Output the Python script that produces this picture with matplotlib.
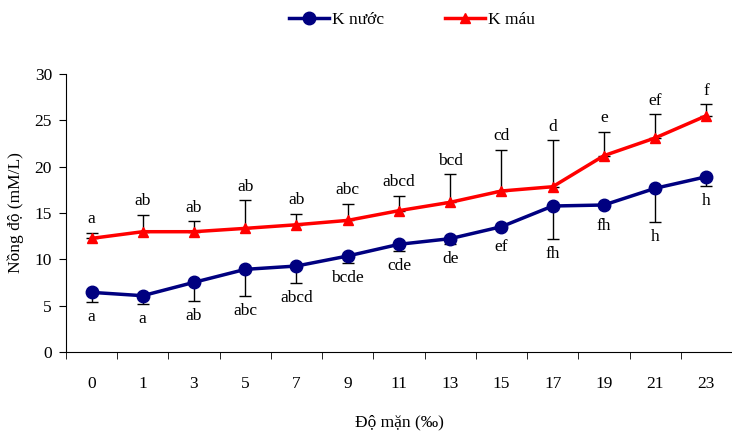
import numpy as np
import matplotlib.pyplot as plt

salinity = ["0", "1", "3", "5", "7", "9", "11", "13", "15", "17", "19", "21", "23"]

k_nuoc = [6.44, 6.08, 7.52, 8.92, 9.28, 10.36, 11.62, 12.23, 13.52, 15.75, 15.86, 17.66, 18.91]
k_nuoc_err = [1.08, 0.9, 1.98, 2.84, 1.8, 0.72, 0.69, 0.58, 0.2, 3.59, 0.1, 3.6, 0.97]
k_nuoc_lab = ["a", "a", "ab", "abc", "abcd", "bcde", "cde", "de", "ef", "fh", "fh", "h", "h"]

k_mau = [12.26, 12.98, 12.98, 13.34, 13.73, 14.2, 15.25, 16.15, 17.37, 17.83, 21.18, 23.09, 25.49]
k_mau_err = [0.58, 1.8, 1.12, 3.02, 1.19, 1.8, 1.62, 3.02, 4.42, 5.0, 2.55, 2.55, 1.23]
k_mau_lab = ["a", "ab", "ab", "ab", "ab", "abc", "abcd", "bcd", "cd", "d", "e", "ef", "f"]

plt.rcParams["font.family"] = ["Liberation Serif", "DejaVu Serif"]
plt.rcParams["font.size"] = 12

fig = plt.figure(figsize=(7.32, 4.32), dpi=100)
ax = fig.add_axes([0.090, 0.185, 0.91, 0.644])

x = np.arange(len(salinity))
zeros = np.zeros(len(x))

ax.errorbar(x, k_nuoc, yerr=[k_nuoc_err, zeros], fmt="none", ecolor="black",
            elinewidth=1, capsize=4, capthick=1, zorder=2)
ax.errorbar(x, k_mau, yerr=[zeros, k_mau_err], fmt="none", ecolor="black",
            elinewidth=1, capsize=4, capthick=1, zorder=2)
ax.plot(x, k_nuoc, color="#000080", marker="o", markersize=9, linewidth=2.5,
        label="K nước", zorder=3)
ax.plot(x, k_mau, color="#FF0000", marker="^", markersize=7, linewidth=2.5,
        label="K máu", zorder=3)

for i in range(len(x)):
    ax.annotate(k_mau_lab[i], (x[i], k_mau[i] + k_mau_err[i]), xytext=(0, 4),
                textcoords="offset points", ha="center", va="bottom", fontsize=12.5)
    low = min(k_nuoc[i] - k_nuoc_err[i], k_nuoc[i] - 0.6)
    ax.annotate(k_nuoc_lab[i], (x[i], low), xytext=(0, -5),
                textcoords="offset points", ha="center", va="top", fontsize=12.5)

ax.set_xlim(-0.5, len(x) - 0.5)
ax.set_ylim(0, 30)
ax.set_yticks(range(0, 31, 5))
ax.set_xticks(x)
ax.set_xticklabels(salinity)
ax.set_xticks(np.arange(-0.5, len(x), 1), minor=True)
ax.tick_params(axis="x", which="major", length=0, pad=17, labelsize=12.5)
ax.tick_params(axis="x", which="minor", length=5, direction="out")
ax.tick_params(axis="y", length=5, direction="out", labelsize=12.5, pad=5)
ax.spines["top"].set_visible(False)
ax.spines["right"].set_visible(False)

ax.set_ylabel("Nồng độ (mM/L)", fontsize=12.5, labelpad=8)
ax.set_xlabel("Độ mặn (‰)", fontsize=12.5, labelpad=16)

fig.legend(loc="center", bbox_to_anchor=(0.563, 0.954), ncol=2, frameon=False,
           fontsize=12.5, handlelength=2.3, columnspacing=3.5, handletextpad=0.2)

plt.savefig("out.png")
